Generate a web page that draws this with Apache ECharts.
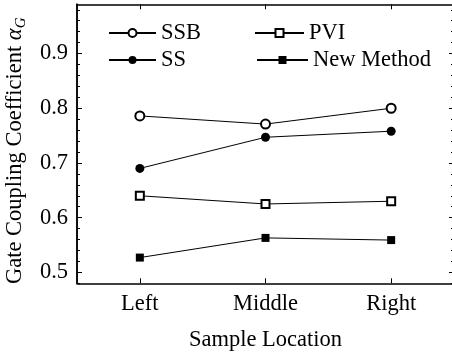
<!DOCTYPE html>
<html>
<head>
<meta charset="utf-8">
<script src="https://cdn.jsdelivr.net/npm/echarts@6/dist/echarts.min.js"></script>
<style>
  html, body { margin: 0; padding: 0; background: #fff; }
  #chart { width: 452px; height: 352px; }
</style>
</head>
<body>
<div id="chart"></div>
<script>
// Sample locations along the device
const categories = ['Left', 'Middle', 'Right'];

// Gate coupling coefficient per extraction method
const ssbValues = [0.786, 0.771, 0.800];
const ssValues = [0.690, 0.747, 0.758];
const pviValues = [0.640, 0.625, 0.630];
const newMethodValues = [0.527, 0.563, 0.559];

// Axis ticks
const majorTicks = [0.5, 0.6, 0.7, 0.8, 0.9];
const minorTicks = [0.48, 0.5, 0.52, 0.54, 0.56, 0.58, 0.6, 0.62, 0.64, 0.66, 0.68, 0.7,
  0.72, 0.74, 0.76, 0.78, 0.8, 0.82, 0.84, 0.86, 0.88, 0.9, 0.92, 0.94, 0.96, 0.98];

const FONT = 'Liberation Serif';
const FS = 22.5;
const INK = '#000';

const chart = echarts.init(document.getElementById('chart'), null, { renderer: 'canvas' });

const yBase = {
  type: 'value', min: 0.48, max: 0.99,
  splitLine: { show: false },
  axisLine: { show: true, lineStyle: { color: INK, width: 1.5 } }
};

function legendAt(name, left, top, width) {
  return {
    data: [name], left: left, top: top, padding: 0,
    itemWidth: width, itemHeight: 10,
    textStyle: { fontFamily: FONT, fontSize: FS, color: INK, lineHeight: 26 },
    selectedMode: false
  };
}

chart.setOption({
  animation: false,
  backgroundColor: '#fff',
  grid: { left: 77, top: 4.3, width: 377, height: 279, outerBoundsMode: 'none', containLabel: false },
  legend: [
    legendAt('SSB', 108, 20, 47),
    legendAt('SS', 108, 47, 47),
    legendAt('PVI', 254, 20, 49),
    legendAt('New Method', 256, 47, 51)
  ],
  xAxis: [
    {
      type: 'category', data: categories, position: 'bottom', boundaryGap: true,
      axisLine: { show: true, lineStyle: { color: INK, width: 1.5 } },
      axisTick: { show: true, inside: true, alignWithLabel: true, length: 5, lineStyle: { color: INK, width: 1 } },
      axisLabel: { fontFamily: FONT, fontSize: FS, color: INK, margin: 9 },
      name: 'Sample Location', nameLocation: 'middle', nameGap: 45,
      nameTextStyle: { fontFamily: FONT, fontSize: FS, color: INK }
    },
    {
      type: 'category', data: categories, position: 'top', boundaryGap: true,
      axisLine: { show: true, lineStyle: { color: INK, width: 1.5 } },
      axisTick: { show: true, inside: true, alignWithLabel: true, length: 5, lineStyle: { color: INK, width: 1 } },
      axisLabel: { show: false }
    }
  ],
  yAxis: [
    Object.assign({}, yBase, {
      position: 'left',
      axisTick: { show: true, inside: true, length: 5, customValues: majorTicks, lineStyle: { color: INK, width: 1 } },
      axisLabel: {
        customValues: majorTicks, fontFamily: FONT, fontSize: FS, color: INK, margin: 9,
        formatter: v => v.toFixed(1)
      },
      name: 'Gate Coupling Coefficient {i|α}{s|G}',
      nameLocation: 'middle', nameRotate: 90, nameGap: 46,
      nameTextStyle: {
        fontFamily: FONT, fontSize: FS, color: INK, padding: [0, 14, 0, 0],
        rich: {
          i: { fontFamily: FONT, fontSize: FS, fontStyle: 'italic', color: INK },
          s: { fontFamily: FONT, fontSize: 15, fontStyle: 'italic', color: INK, padding: [12, 0, 0, 0] }
        }
      }
    }),
    Object.assign({}, yBase, {
      position: 'left',
      axisTick: { show: true, inside: true, length: 3, customValues: minorTicks, lineStyle: { color: INK, width: 1 } },
      axisLabel: { show: false }
    }),
    Object.assign({}, yBase, {
      position: 'right',
      axisTick: { show: true, inside: true, length: 5, customValues: majorTicks, lineStyle: { color: INK, width: 1 } },
      axisLabel: { show: false }
    }),
    Object.assign({}, yBase, {
      position: 'right',
      axisTick: { show: true, inside: true, length: 3, customValues: minorTicks, lineStyle: { color: INK, width: 1 } },
      axisLabel: { show: false }
    })
  ],
  series: [
    {
      name: 'SSB', type: 'line', data: ssbValues, symbol: 'emptyCircle', symbolSize: 9,
      lineStyle: { color: INK, width: 1 }, itemStyle: { color: INK, borderWidth: 1 }
    },
    {
      name: 'SS', type: 'line', data: ssValues, symbol: 'circle', symbolSize: 9,
      lineStyle: { color: INK, width: 1 }, itemStyle: { color: INK }
    },
    {
      name: 'PVI', type: 'line', data: pviValues, symbol: 'emptyRect', symbolSize: 8,
      lineStyle: { color: INK, width: 1 }, itemStyle: { color: INK, borderWidth: 1 }
    },
    {
      name: 'New Method', type: 'line', data: newMethodValues, symbol: 'rect', symbolSize: 8,
      lineStyle: { color: INK, width: 1 }, itemStyle: { color: INK }
    }
  ]
});
</script>
</body>
</html>
